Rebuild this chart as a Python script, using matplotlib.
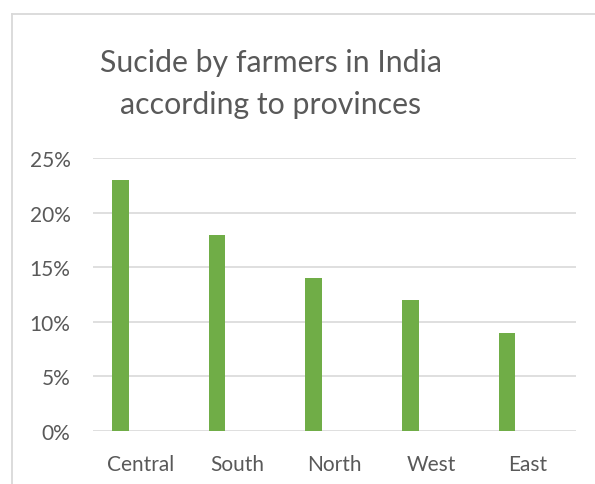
import matplotlib
matplotlib.use("Agg")
import matplotlib.pyplot as plt
from matplotlib.lines import Line2D
import numpy as np

categories = ["Central", "South", "North", "West", "East"]
values = [0.23, 0.18, 0.14, 0.12, 0.09]
yticks = [0, 0.05, 0.10, 0.15, 0.20, 0.25]
ytick_labels = ["0%", "5%", "10%", "15%", "20%", "25%"]
title = "Sucide by farmers in India\naccording to provinces"

W, H = 595, 485
fig = plt.figure(figsize=(W / 100, H / 100), dpi=100)
fig.patch.set_facecolor("white")

# chart border (extends past image on right/bottom)
fig.add_artist(Line2D([11.5 / W, 11.5 / W], [0, 1 - 14.5 / H], transform=fig.transFigure, color="#D9D9D9", lw=1.3))
fig.add_artist(Line2D([11.5 / W, 1], [1 - 14.5 / H, 1 - 14.5 / H], transform=fig.transFigure, color="#D9D9D9", lw=1.3))

left, right = 92.7 / W, 576 / W
bottom, top = 1 - 431.7 / H, 1 - 159.3 / H
ax = fig.add_axes([left, bottom, right - left, top - bottom])

x = np.arange(len(categories))
ax.bar(x - 0.215, values, width=0.172, color="#70AD47", zorder=3)
ax.set_xlim(-0.5, len(categories) - 0.5)
ax.set_ylim(0, 0.25)
ax.set_yticks(yticks)
ax.set_yticklabels(ytick_labels)
ax.set_xticks(x)
ax.set_xticklabels(categories)
ax.yaxis.grid(True, color="#D9D9D9", lw=1.2, zorder=0)
ax.set_axisbelow(True)
for s in ax.spines.values():
    s.set_visible(False)
ax.tick_params(axis="both", length=0, colors="#595959", labelsize=15)
ax.tick_params(axis="y", pad=16)
ax.tick_params(axis="x", pad=17)
for lab in ax.get_xticklabels() + ax.get_yticklabels():
    lab.set_fontfamily("Lato")
    lab.set_color("#595959")

fig.text(271 / W, 1 - 84 / H, title, ha="center", va="center", fontsize=21.8,
         family="Lato", color="#595959", linespacing=1.64)

fig.savefig("out.png", dpi=100, facecolor="white")
